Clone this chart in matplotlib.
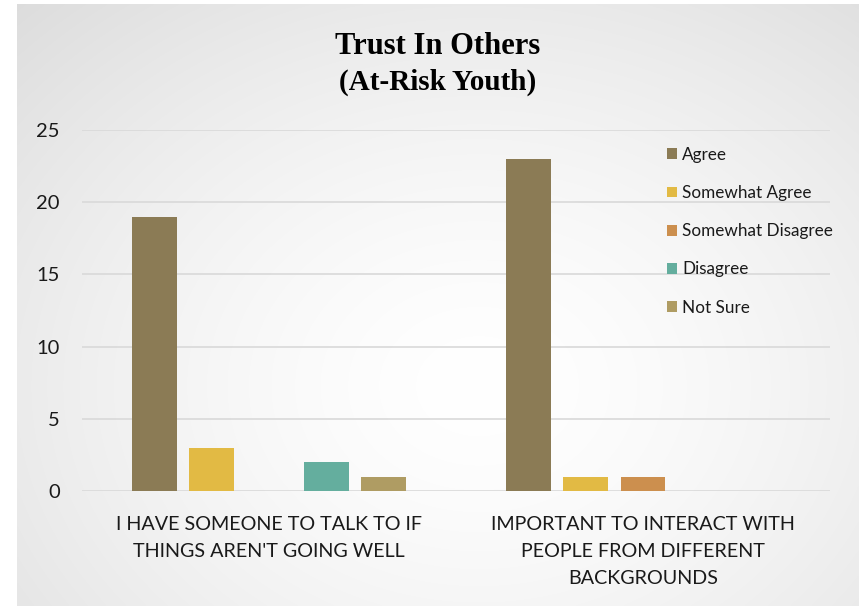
import numpy as np
import matplotlib
matplotlib.use("Agg")
import matplotlib.pyplot as plt

# ---------------------------------------------------------------------------
# Data
# ---------------------------------------------------------------------------

CATEGORIES = [
    "I HAVE SOMEONE TO TALK TO IF\nTHINGS AREN'T GOING WELL",
    "IMPORTANT TO INTERACT WITH\nPEOPLE FROM DIFFERENT\nBACKGROUNDS",
]
RESPONSES = ["Agree", "Somewhat Agree", "Somewhat Disagree", "Disagree", "Not Sure"]
AGREE = [19, 23]
SOMEWHAT_AGREE = [3, 1]
SOMEWHAT_DISAGREE = [0, 1]
DISAGREE = [2, 0]
NOT_SURE = [1, 0]
Y_TICKS = [0, 5, 10, 15, 20, 25]

COLORS = ["#8b7b55", "#e2ba44", "#cc8f4e", "#64ae9e", "#af9c63"]
GRID_COLOR = "#d9d9d9"
TEXT_COLOR = "#1a1a1a"
FONT = ["Lato", "DejaVu Sans"]

W, H = 865, 606
DPI = 100


def radial_background(fig):
    """Soft radial gradient panel behind the chart."""
    bg = fig.add_axes([17 / W, 0, (859 - 17) / W, (H - 4) / H], zorder=-5)
    yy, xx = np.mgrid[0:300, 0:420]
    cx, cy = 230, 190
    r = np.sqrt(((xx - cx) / 340.0) ** 2 + ((yy - cy) / 270.0) ** 2)
    shade = 1.0 - 0.14 * np.clip(r, 0, 1.3) ** 1.5
    img = np.dstack([shade, shade, shade])
    bg.imshow(img, aspect="auto", interpolation="bilinear")
    bg.set_axis_off()


def main():
    fig = plt.figure(figsize=(W / DPI, H / DPI), dpi=DPI)
    fig.patch.set_facecolor("white")
    radial_background(fig)

    ax = fig.add_axes([82 / W, 1 - 491 / H, (830 - 82) / W, (491 - 130) / H])
    ax.patch.set_alpha(0)

    series = [AGREE, SOMEWHAT_AGREE, SOMEWHAT_DISAGREE, DISAGREE, NOT_SURE]
    x = np.arange(len(CATEGORIES))
    width = 0.12
    step = 0.1532
    for i, (name, vals) in enumerate(zip(RESPONSES, series)):
        ax.bar(x + (i - 2) * step, vals, width, color=COLORS[i], label=name, zorder=3)

    ax.set_xlim(-0.5, 1.5)
    ax.set_ylim(0, 25)
    ax.set_yticks(Y_TICKS)
    ax.set_yticklabels([str(t) for t in Y_TICKS], fontsize=14.5, family=FONT, color=TEXT_COLOR)
    ax.set_xticks(x)
    ax.set_xticklabels(CATEGORIES, fontsize=14.2, family=FONT, color=TEXT_COLOR)
    for lbl in ax.get_xticklabels():
        lbl.set_linespacing(1.72)
    ax.tick_params(axis="y", length=0, pad=16)
    ax.tick_params(axis="x", length=0, pad=18)
    ax.grid(axis="y", color=GRID_COLOR, linewidth=1.2, zorder=0)
    for spine in ax.spines.values():
        spine.set_visible(False)

    fig.text(438 / W, 1 - 47 / H, "Trust In Others", ha="center", va="center",
             fontsize=22, fontweight="bold", family="Liberation Serif", color="black")
    fig.text(438 / W, 1 - 82 / H, "(At-Risk Youth)", ha="center", va="center",
             fontsize=21, fontweight="bold", family="Liberation Serif", color="black")

    leg = ax.legend(loc="upper left", bbox_to_anchor=(660 / W, 1 - 140 / H),
                    bbox_transform=fig.transFigure, frameon=False,
                    prop={"family": FONT, "size": 12.3},
                    handlelength=0.6, handleheight=0.6, handletextpad=0.3,
                    labelspacing=1.3, borderaxespad=0)
    for t in leg.get_texts():
        t.set_color(TEXT_COLOR)

    fig.savefig("out.png", dpi=DPI)
    plt.close(fig)


if __name__ == "__main__":
    main()
